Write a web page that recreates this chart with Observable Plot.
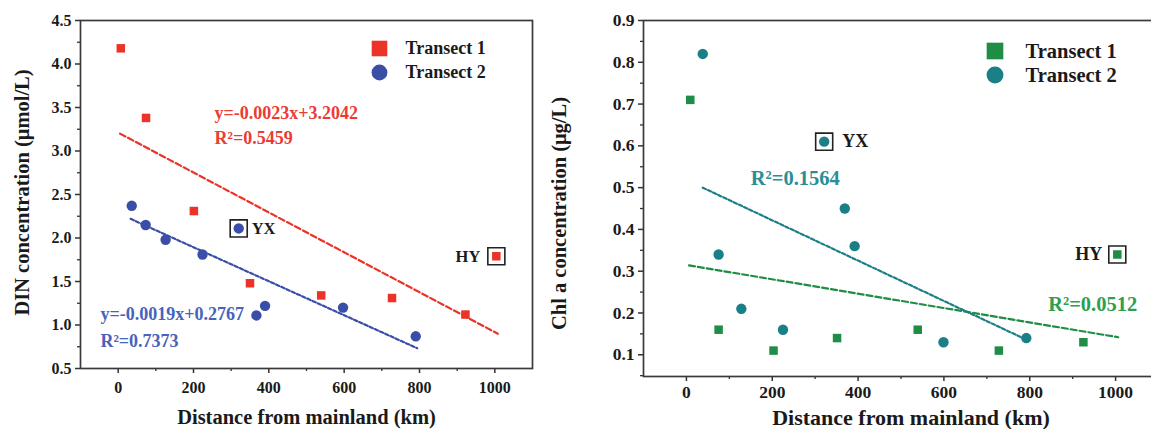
<!DOCTYPE html>
<html><head><meta charset="utf-8">
<script src="https://cdn.jsdelivr.net/npm/d3@7"></script>
<script src="https://cdn.jsdelivr.net/npm/@observablehq/plot@0.6"></script>
<style>
html,body{margin:0;padding:0;background:#fff;overflow:hidden;width:1151px;height:429px}
#wrap{position:relative;width:1151px;height:429px;overflow:hidden}
#left{position:absolute;left:0;top:0;width:540px}
#right{position:absolute;left:560px;top:0;width:608px}
svg{overflow:visible;max-width:none !important}
</style></head><body><div id="wrap"><div id="left"></div><div id="right"></div></div>
<script>
// ---- Data ----
const series = ["Transect 1", "Transect 2"];
// Left panel: DIN
const dinDist1 = [7, 74, 201, 350, 539, 727, 922, 1004];
const dinVal1  = [4.18, 3.38, 2.31, 1.48, 1.34, 1.31, 1.12, 1.79];
const dinDist2 = [36, 73, 126, 224, 320, 367, 390, 597, 790];
const dinVal2  = [2.37, 2.15, 1.98, 1.81, 2.11, 1.11, 1.22, 1.20, 0.87];
const dinStation1 = ["", "", "", "", "", "", "", "HY"];
const dinStation2 = ["", "", "", "", "YX", "", "", "", ""];
const dinFit1X = [5, 1008], dinFit1Y = [3.20, 0.90];
const dinFit2X = [33, 794], dinFit2Y = [2.22, 0.733];
const dinEq1 = ["y=-0.0023x+3.2042", "R²=0.5459"];
const dinEq1X = [256, 256], dinEq1Y = [3.43, 3.144];
const dinEq2 = ["y=-0.0019x+0.2767", "R²=0.7373"];
const dinEq2X = [-47, -47], dinEq2Y = [1.12, 0.81];
// Right panel: Chl a
const chlDist1 = [9, 75, 203, 351, 539, 728, 925, 1004];
const chlVal1  = [0.71, 0.16, 0.11, 0.14, 0.16, 0.11, 0.13, 0.34];
const chlDist2 = [38, 75, 128, 225, 321, 369, 392, 599, 792];
const chlVal2  = [0.82, 0.34, 0.21, 0.16, 0.61, 0.45, 0.36, 0.13, 0.14];
const chlStation1 = ["", "", "", "", "", "", "", "HY"];
const chlStation2 = ["", "", "", "", "YX", "", "", "", ""];
const chlFit1X = [6, 1006], chlFit1Y = [0.314, 0.142];
const chlFit2X = [38, 784], chlFit2Y = [0.50, 0.14];
const chlEq1 = ["R²=0.0512"], chlEq1X = [843], chlEq1Y = [0.221];
const chlEq2 = ["R²=0.1564"], chlEq2X = [150], chlEq2Y = [0.521];
// Ticks
const xMajor = [0, 200, 400, 600, 800, 1000];
const xMinor = [100, 300, 500, 700, 900];
const dinMajor = [0.5, 1.0, 1.5, 2.0, 2.5, 3.0, 3.5, 4.0, 4.5];
const dinMinor = [0.75, 1.25, 1.75, 2.25, 2.75, 3.25, 3.75, 4.25];
const chlMajor = [0.1, 0.2, 0.3, 0.4, 0.5, 0.6, 0.7, 0.8, 0.9];
const chlMinor = [0.05, 0.15, 0.25, 0.35, 0.45, 0.55, 0.65, 0.75, 0.85];
const xTitle = "Distance from mainland (km)";
const dinTitle = "DIN concentration (μmol/L)";
const chlTitle = "Chl a concentration (μg/L)";

const FF = "Liberation Serif, Times New Roman, serif";
const pts = (xs, ys, labs) => xs.map((x, i) => ({x, y: ys[i], label: labs ? labs[i] : ""}));
const txt = (ts, xs, ys) => ts.map((t, i) => ({t, x: xs[i], y: ys[i]}));

function panel(o) {
  const p1 = pts(o.d1, o.v1, o.st1), p2 = pts(o.d2, o.v2, o.st2);
  const f1 = pts(o.f1x, o.f1y), f2 = pts(o.f2x, o.f2y);
  const boxed = [...p1, ...p2].filter(d => d.label);
  const before = boxed.filter(d => d.label === "HY");
  const after = boxed.filter(d => d.label !== "HY");
  const common = {fontFamily: FF, fontWeight: "bold"};
  return Plot.plot({
    width: o.width, height: 429,
    marginLeft: o.ml, marginRight: o.mr, marginTop: 20, marginBottom: o.mb,
    x: {domain: [-100, 1100]},
    y: {domain: o.yDomain},
    style: {fontFamily: FF, background: "#fff", overflow: "visible"},
    marks: [
      Plot.axisX({ticks: xMinor, tickSize: 3, text: null, stroke: "#333", strokeWidth: 1.3, label: null}),
      Plot.axisX({ticks: xMajor, tickSize: 5, tickPadding: o.xPad, tickFormat: d3.format("d"), fontSize: o.tick, ...common, fill: "#1a1a1a", stroke: "#333", strokeWidth: 1.5, label: null}),
      Plot.axisY({ticks: o.yMinor, tickSize: 3, text: null, stroke: "#333", strokeWidth: 1.3, label: null}),
      Plot.axisY({ticks: o.yMajor, tickSize: 5, tickPadding: 4, tickFormat: d3.format(".1f"), fontSize: o.tick, ...common, fill: "#1a1a1a", stroke: "#333", strokeWidth: 1.5, label: null}),
      Plot.frame({stroke: "#3a3a3a", strokeWidth: 1.7}),
      Plot.line(f1, {x: "x", y: "y", stroke: o.c1, strokeWidth: 2.2, strokeDasharray: o.dash1}),
      Plot.line(f2, {x: "x", y: "y", stroke: o.c2, strokeWidth: 2.2, strokeDasharray: o.dash2}),
      Plot.dot(p1, {x: "x", y: "y", symbol: "square", r: 4.8, fill: o.c1}),
      Plot.dot(p2, {x: "x", y: "y", symbol: "circle", r: 5.2, fill: o.c2}),
      Plot.dot(boxed, {x: "x", y: "y", symbol: "square", r: 9.6, fill: "none", stroke: "#222", strokeWidth: 1.6}),
      Plot.text(after, {x: "x", y: "y", text: "label", dx: o.lblDx, textAnchor: "start", fontSize: o.lbl, ...common, fill: "#1a1a1a"}),
      Plot.text(before, {x: "x", y: "y", text: "label", dx: -o.lblDx2, textAnchor: "end", fontSize: o.lbl, ...common, fill: "#1a1a1a"}),
      Plot.text(o.eq1, {x: "x", y: "y", text: "t", textAnchor: "start", fontSize: o.ann, ...common, fill: o.t1}),
      Plot.text(o.eq2, {x: "x", y: "y", text: "t", textAnchor: "start", fontSize: o.ann, ...common, fill: o.t2}),
      // legend
      Plot.dot([series[0]], {frameAnchor: "top-left", dx: o.legDx, dy: o.legDy, symbol: "square", r: o.legR, fill: o.c1}),
      Plot.dot([series[1]], {frameAnchor: "top-left", dx: o.legDx, dy: o.legDy + o.legGap, symbol: "circle", r: o.legR * 0.9, fill: o.c2}),
      Plot.text([series[0]], {frameAnchor: "top-left", dx: o.legTx, dy: o.legDy, text: d => d, textAnchor: "start", lineAnchor: "middle", fontSize: o.leg, ...common, fill: "#1a1a1a"}),
      Plot.text([series[1]], {frameAnchor: "top-left", dx: o.legTx, dy: o.legDy + o.legGap, text: d => d, textAnchor: "start", lineAnchor: "middle", fontSize: o.leg, ...common, fill: "#1a1a1a"}),
      // axis titles
      Plot.text([xTitle], {frameAnchor: "bottom", dx: o.xtDx, dy: o.xtDy, text: d => d, textAnchor: "middle", lineAnchor: "middle", fontSize: o.xt, ...common, fill: "#1a1a1a"}),
      Plot.text([o.yTitle], {frameAnchor: "left", dx: o.ytDx, dy: o.ytDy, rotate: -90, text: d => d, textAnchor: "middle", lineAnchor: "middle", fontSize: o.yt, ...common, fill: "#1a1a1a"})
    ]
  });
}

document.getElementById("left").append(panel({
  width: 540, ml: 80, mr: 8, mb: 61, yDomain: [0.5, 4.5],
  d1: dinDist1, v1: dinVal1, st1: dinStation1, d2: dinDist2, v2: dinVal2, st2: dinStation2,
  f1x: dinFit1X, f1y: dinFit1Y, f2x: dinFit2X, f2y: dinFit2Y,
  eq1: txt(dinEq1, dinEq1X, dinEq1Y), eq2: txt(dinEq2, dinEq2X, dinEq2Y),
  yMajor: dinMajor, yMinor: dinMinor,
  c1: "#ec3328", c2: "#3a4ea8", t1: "#ec3b33", t2: "#4763bd",
  dash1: "6,3", dash2: "3.5,2.2",
  tick: 16, xPad: 8, lbl: 16.5, lblDx: 13, lblDx2: 16, ann: 18, leg: 18, legR: 8.8, legDx: 299, legDy: 28, legGap: 24, legTx: 325,
  xt: 20.5, xtDx: 0, xtDy: 49, yt: 20.5, ytDx: -58, ytDy: -2, yTitle: dinTitle
}));

document.getElementById("right").append(panel({
  width: 608, ml: 83, mr: 10, mb: 53, yDomain: [0.048, 0.9],
  d1: chlDist1, v1: chlVal1, st1: chlStation1, d2: chlDist2, v2: chlVal2, st2: chlStation2,
  f1x: chlFit1X, f1y: chlFit1Y, f2x: chlFit2X, f2y: chlFit2Y,
  eq1: txt(chlEq1, chlEq1X, chlEq1Y), eq2: txt(chlEq2, chlEq2X, chlEq2Y),
  yMajor: chlMajor, yMinor: chlMinor,
  c1: "#1f8d46", c2: "#1b7f87", t1: "#2e9e4f", t2: "#2a8e95",
  dash1: "6,3", dash2: "3.5,2.2",
  tick: 17.5, xPad: 4, lbl: 18, lblDx: 18, lblDx2: 15, ann: 20.5, leg: 20.5, legR: 9.4, legDx: 351.5, legDy: 30.5, legGap: 24, legTx: 382,
  xt: 22, xtDx: 10, xtDy: 41, yt: 20.5, ytDx: -84, ytDy: 15, yTitle: chlTitle
}));
</script></body></html>
